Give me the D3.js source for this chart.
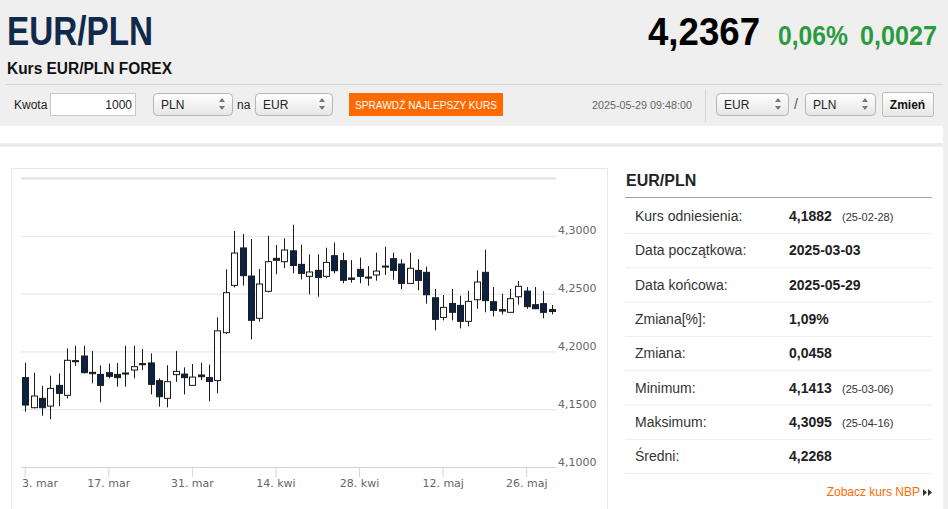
<!DOCTYPE html>
<html>
<head>
<meta charset="utf-8">
<script src="https://cdn.jsdelivr.net/npm/d3@7"></script>
<style>
  body { margin: 0; background: #fff; }
  svg text { font-family: "Liberation Sans", Arial, sans-serif; }
  .narrow { font-family: "Liberation Sans Narrow", "Arial Narrow", "Liberation Sans", sans-serif; }
</style>
</head>
<body>
<svg id="page" width="948" height="509"></svg>
<script>
// EUR/PLN daily candles, 2025-03-03 .. 2025-05-29
const dates = [
  "2025-03-03","2025-03-04","2025-03-05","2025-03-06","2025-03-07","2025-03-10","2025-03-11","2025-03-12","2025-03-13","2025-03-14",
  "2025-03-17","2025-03-18","2025-03-19","2025-03-20","2025-03-21","2025-03-24","2025-03-25","2025-03-26","2025-03-27","2025-03-28",
  "2025-03-31","2025-04-01","2025-04-02","2025-04-03","2025-04-04","2025-04-07","2025-04-08","2025-04-09","2025-04-10","2025-04-11",
  "2025-04-14","2025-04-15","2025-04-16","2025-04-17","2025-04-18","2025-04-21","2025-04-22","2025-04-23","2025-04-24","2025-04-25",
  "2025-04-28","2025-04-29","2025-04-30","2025-05-01","2025-05-02","2025-05-05","2025-05-06","2025-05-07","2025-05-08","2025-05-09",
  "2025-05-12","2025-05-13","2025-05-14","2025-05-15","2025-05-16","2025-05-19","2025-05-20","2025-05-21","2025-05-22","2025-05-23",
  "2025-05-26","2025-05-27","2025-05-28","2025-05-29"
];
const opens = [
  4.1773,4.1513,4.1594,4.1527,4.1706,4.1620,4.1920,4.1960,4.1819,4.1801,
  4.1816,4.1801,4.1813,4.1839,4.1894,4.1900,4.1747,4.1594,4.1799,4.1804,
  4.1706,4.1796,4.1773,4.1748,4.2162,4.2571,4.2895,4.2652,4.2286,4.2520,
  4.2805,4.2776,4.2870,4.2753,4.2649,4.2701,4.2649,4.2828,4.2785,4.2635,
  4.2710,4.2643,4.2661,4.2730,4.2802,4.2756,4.2588,4.2701,4.2684,4.2464,
  4.2294,4.2415,4.2398,4.2260,4.2447,4.2684,4.2430,4.2361,4.2338,4.2473,
  4.2522,4.2404,4.2413,4.2362
];
const highs = [
  4.1902,4.1816,4.1703,4.1790,4.1810,4.2026,4.2049,4.2049,4.2003,4.1879,
  4.1894,4.1900,4.2049,4.2049,4.2021,4.1983,4.1767,4.1880,4.2003,4.1862,
  4.1891,4.1902,4.1886,4.2295,4.2710,4.3042,4.3016,4.2972,4.2713,4.3001,
  4.2920,4.2978,4.3095,4.2923,4.2839,4.2839,4.2897,4.2943,4.2854,4.2790,
  4.2811,4.2738,4.2854,4.2906,4.2854,4.2797,4.2854,4.2797,4.2733,4.2540,
  4.2488,4.2540,4.2482,4.2525,4.2701,4.2880,4.2557,4.2499,4.2540,4.2609,
  4.2557,4.2557,4.2522,4.2401
];
const lows = [
  4.1478,4.1507,4.1444,4.1413,4.1527,4.1594,4.1874,4.1810,4.1724,4.1559,
  4.1767,4.1695,4.1695,4.1767,4.1839,4.1628,4.1522,4.1516,4.1736,4.1628,
  4.1703,4.1752,4.1568,4.1637,4.2150,4.2554,4.2569,4.2104,4.2257,4.2511,
  4.2667,4.2720,4.2675,4.2623,4.2493,4.2473,4.2632,4.2675,4.2589,4.2594,
  4.2589,4.2568,4.2612,4.2661,4.2620,4.2538,4.2584,4.2528,4.2413,4.2182,
  4.2268,4.2268,4.2199,4.2217,4.2369,4.2338,4.2303,4.2320,4.2335,4.2404,
  4.2369,4.2366,4.2286,4.2320
];
const closes = [
  4.1536,4.1614,4.1513,4.1680,4.1637,4.1923,4.1911,4.1816,4.1807,4.1706,
  4.1784,4.1773,4.1804,4.1868,4.1885,4.1715,4.1608,4.1738,4.1827,4.1773,
  4.1778,4.1781,4.1740,4.2178,4.2508,4.2851,4.2655,4.2269,4.2583,4.2776,
  4.2788,4.2877,4.2743,4.2675,4.2687,4.2640,4.2770,4.2698,4.2615,4.2623,
  4.2649,4.2638,4.2695,4.2738,4.2701,4.2588,4.2719,4.2614,4.2490,4.2277,
  4.2381,4.2338,4.2260,4.2433,4.2600,4.2439,4.2355,4.2349,4.2456,4.2563,
  4.2387,4.2369,4.2338,4.2345
];

const xTickDates = ["2025-03-03","2025-03-17","2025-03-31","2025-04-14","2025-04-28","2025-05-12","2025-05-26"];
const xTickLabels = ["3. mar","17. mar","31. mar","14. kwi","28. kwi","12. maj","26. maj"];
const yTicks = [4.10, 4.15, 4.20, 4.25, 4.30, 4.35];

// side table
const statLabels = ["Kurs odniesienia:","Data początkowa:","Data końcowa:","Zmiana[%]:","Zmiana:","Minimum:","Maksimum:","Średni:"];
const statValues = ["4,1882","2025-03-03","2025-05-29","1,09%","0,0458","4,1413","4,3095","4,2268"];
const statDates  = ["(25-02-28)","","","","","(25-03-06)","(25-04-16)",""];

const svg = d3.select("#page");

// ---------- header ----------
svg.append("rect").attr("width", 948).attr("height", 126).attr("fill", "#efefef");
svg.append("rect").attr("y", 143).attr("width", 943).attr("height", 4).attr("fill", "#ececec");
svg.append("rect").attr("x", 943).attr("y", 126).attr("width", 5).attr("height", 383).attr("fill", "#efefef");

svg.append("text").attr("class", "narrow")
    .attr("x", 7).attr("y", 45)
    .attr("textLength", 146).attr("lengthAdjust", "spacingAndGlyphs")
    .style("font-size", "41px").style("font-weight", "bold").attr("fill", "#112a4b")
    .text("EUR/PLN");

svg.append("text").attr("class", "narrow")
    .attr("x", 7).attr("y", 74)
    .attr("textLength", 165).attr("lengthAdjust", "spacingAndGlyphs")
    .style("font-size", "16px").style("font-weight", "bold").attr("fill", "#111")
    .text("Kurs EUR/PLN FOREX");

const quote = [
  {t: "4,2367", x: 648, w: 112, size: 38, color: "#000"},
  {t: "0,06%",  x: 778, w: 70,  size: 27, color: "#2c9a3f"},
  {t: "0,0027", x: 860, w: 77,  size: 27, color: "#2c9a3f"}
];
svg.selectAll(".quote").data(quote).enter().append("text")
    .attr("class", "narrow quote")
    .attr("x", d => d.x).attr("y", 45)
    .attr("textLength", d => d.w).attr("lengthAdjust", "spacingAndGlyphs")
    .style("font-size", d => d.size + "px").style("font-weight", "bold")
    .attr("fill", d => d.color)
    .text(d => d.t);

svg.append("line")
    .attr("x1", 5).attr("x2", 943).attr("y1", 84.5).attr("y2", 84.5)
    .attr("stroke", "#d8d8d8");

// controls row
const defs = svg.append("defs");
const grad = defs.append("linearGradient").attr("id", "btnGrad").attr("x1", 0).attr("x2", 0).attr("y1", 0).attr("y2", 1);
grad.append("stop").attr("offset", "0%").attr("stop-color", "#ffffff");
grad.append("stop").attr("offset", "100%").attr("stop-color", "#e6e6e6");

function label(x, y, txt, opts) {
  return svg.append("text").attr("class", "narrow")
      .attr("x", x).attr("y", y)
      .style("font-size", (opts && opts.size || 12) + "px")
      .attr("fill", opts && opts.color || "#222")
      .text(txt);
}

function selectBox(x, w, txt) {
  svg.append("rect")
      .attr("x", x + 0.5).attr("y", 93.5).attr("width", w).attr("height", 22).attr("rx", 4)
      .attr("fill", "url(#btnGrad)").attr("stroke", "#b5b5b5");
  label(x + 8, 109, txt);
  const ax = x + w - 10;
  svg.append("path").attr("d", `M${ax - 3},102 L${ax + 3},102 L${ax},98 Z M${ax - 3},106 L${ax + 3},106 L${ax},110 Z`)
      .attr("fill", "#777");
}

label(14, 109, "Kwota");
svg.append("rect").attr("x", 50.5).attr("y", 93.5).attr("width", 85).attr("height", 22)
    .attr("fill", "#fff").attr("stroke", "#c8c8c8");
label(132, 109, "1000").attr("text-anchor", "end");
selectBox(153, 79, "PLN");
label(237, 109, "na");
selectBox(255, 77, "EUR");

svg.append("rect").attr("x", 349).attr("y", 93).attr("width", 154).attr("height", 23).attr("fill", "#ff6a00");
label(355, 109, "SPRAWDŹ NAJLEPSZY KURS", {size: 11, color: "#fff"})
    .attr("textLength", 142).attr("lengthAdjust", "spacingAndGlyphs");

label(592, 109, "2025-05-29 09:48:00", {size: 11, color: "#666"})
    .attr("textLength", 100).attr("lengthAdjust", "spacingAndGlyphs");
svg.append("line").attr("x1", 705.5).attr("x2", 705.5).attr("y1", 89).attr("y2", 122).attr("stroke", "#d8d8d8");

selectBox(716, 72, "EUR");
label(794, 109, "/", {size: 14, color: "#555"});
selectBox(805, 70, "PLN");

svg.append("rect").attr("x", 882.5).attr("y", 92.5).attr("width", 51).attr("height", 24).attr("rx", 2)
    .attr("fill", "url(#btnGrad)").attr("stroke", "#bdbdbd");
label(907.5, 109, "Zmień").attr("text-anchor", "middle").style("font-weight", "bold").attr("fill", "#111");

// ---------- chart ----------
svg.append("rect").attr("x", 11.5).attr("y", 168.5).attr("width", 596).attr("height", 360)
    .attr("fill", "#fff").attr("stroke", "#e8e8e8");

const plot = {left: 21, right: 556, top: 178, bottom: 467};

const x = d3.scaleBand()
    .domain(dates)
    .range([plot.left, plot.right])
    .paddingInner(0.3)
    .paddingOuter(0.15);

const y = d3.scaleLinear()
    .domain([4.10, 4.35])
    .range([plot.bottom, plot.top]);

const plLocale = d3.formatLocale({decimal: ",", thousands: " ", grouping: [3], currency: ["", " zł"]});
const fmt = plLocale.format(".4f");

// y grid + labels on the right
const yAxis = svg.append("g")
    .attr("transform", `translate(${plot.right},0)`)
    .call(d3.axisRight(y)
        .tickValues(yTicks)
        .tickSize(-(plot.right - plot.left))
        .tickPadding(2)
        .tickFormat(d => d >= 4.349 ? "" : fmt(d)));
yAxis.select(".domain").remove();
yAxis.selectAll(".tick line")
    .attr("stroke", d => d >= 4.349 ? "#dedede" : "#e3e3e3")
    .attr("stroke-width", d => d >= 4.349 ? 2 : 1);
yAxis.selectAll(".tick text")
    .attr("dy", -2)
    .attr("fill", "#666")
    .style("font-family", "'DejaVu Sans', sans-serif")
    .style("font-size", "11px");

// x axis
const xAxis = svg.append("g")
    .attr("transform", `translate(0,${plot.bottom})`)
    .call(d3.axisBottom(x)
        .tickValues(xTickDates)
        .tickSize(10)
        .tickSizeOuter(0)
        .tickPadding(2)
        .tickFormat((d, i) => xTickLabels[i]));
xAxis.select(".domain").attr("stroke", "#ccd6eb");
xAxis.selectAll(".tick line").attr("stroke", "#ccd6eb");
xAxis.selectAll(".tick text")
    .attr("fill", "#666")
    .style("font-family", "'DejaVu Sans', sans-serif")
    .style("font-size", "11px");
// keep first label inside the plot like the original
xAxis.selectAll(".tick").each(function(d) {
  const t = d3.select(this).select("text");
  const w = t.node().getComputedTextLength();
  const cx = x(d) + x.bandwidth() / 2;
  if (cx - w / 2 < plot.left) {
    t.attr("text-anchor", "start").attr("x", plot.left + 1 - cx);
  }
});

// candles
const candles = dates.map((d, i) => ({date: d, o: opens[i], h: highs[i], l: lows[i], c: closes[i]}));
const bodyW = 5;

const g = svg.append("g");
const candle = g.selectAll(".candle").data(candles).enter().append("g").attr("class", "candle");

candle.append("line")
    .attr("x1", d => Math.round(x(d.date) + x.bandwidth() / 2) + 0.5)
    .attr("x2", d => Math.round(x(d.date) + x.bandwidth() / 2) + 0.5)
    .attr("y1", d => y(d.h))
    .attr("y2", d => y(d.l))
    .attr("stroke", "#1b1b1b");

candle.append("rect")
    .attr("x", d => Math.round(x(d.date) + x.bandwidth() / 2) + 0.5 - bodyW / 2 - 0.5)
    .attr("y", d => y(Math.max(d.o, d.c)))
    .attr("width", bodyW + 1)
    .attr("height", d => Math.max(1, Math.abs(y(d.o) - y(d.c))))
    .attr("fill", d => d.c >= d.o ? "#ffffff" : "#0c2244")
    .attr("stroke", "#1b1b1b");

// ---------- side table ----------
svg.append("text").attr("x", 626).attr("y", 186)
    .style("font-size", "16px").style("font-weight", "bold").attr("fill", "#222")
    .text("EUR/PLN");
svg.append("line").attr("x1", 625).attr("x2", 932).attr("y1", 197.5).attr("y2", 197.5).attr("stroke", "#a0a0a0");

const rowY = d3.scaleLinear().domain([0, 1]).range([216, 250.3]);
const rows = svg.selectAll(".row").data(statLabels).enter().append("g").attr("class", "row")
    .attr("transform", (d, i) => `translate(0,${rowY(i)})`);

rows.append("text").attr("x", 635).attr("y", 5)
    .style("font-size", "14px").attr("fill", "#333")
    .text(d => d);
rows.append("text").attr("x", 789).attr("y", 5)
    .style("font-size", "14px").style("font-weight", "bold").attr("fill", "#222")
    .text((d, i) => statValues[i]);
rows.append("text").attr("x", 842).attr("y", 5)
    .style("font-size", "11px").attr("fill", "#333")
    .text((d, i) => statDates[i]);
rows.append("line").attr("x1", 625).attr("x2", 932).attr("y1", 17.5).attr("y2", 17.5)
    .attr("stroke", "#ececec");

svg.append("text").attr("x", 920).attr("y", 496).attr("text-anchor", "end")
    .style("font-size", "12px").attr("fill", "#ff6a00")
    .text("Zobacz kurs NBP");
svg.append("path")
    .attr("d", "M923,489 L927,492.5 L923,496 Z M928,489 L932,492.5 L928,496 Z")
    .attr("fill", "#333");
</script>
</body>
</html>
